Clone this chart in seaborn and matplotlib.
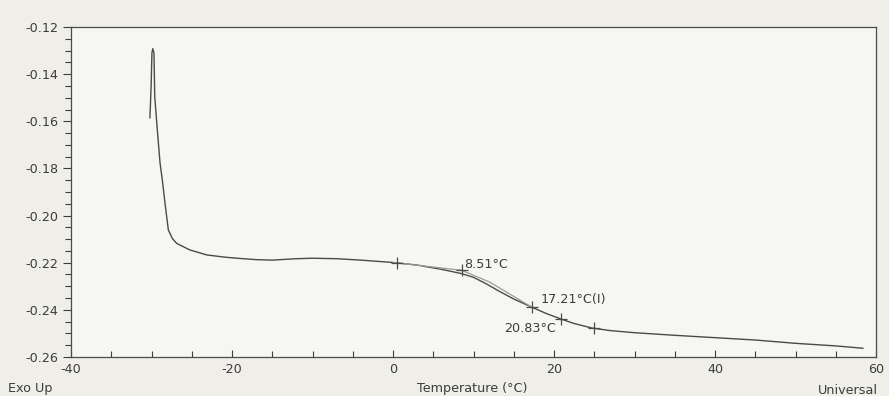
import matplotlib
matplotlib.use("Agg")
import matplotlib.pyplot as plt
from matplotlib.ticker import MultipleLocator, FormatStrFormatter
import seaborn as sns
import pandas as pd

# DSC heat-flow trace (Temperature in °C, heat flow in W/g)
temperature = [-30.2, -30.05, -29.95, -29.85, -29.7, -29.6, -29.28, -28.94,
               -28.66, -28.3, -27.91, -27.4, -26.87, -26.0, -25.22, -23.14,
               -21.0, -19.4, -17.0, -15.0, -12.0, -10.0, -7.0, -4.0, 0.0,
               3.0, 6.0, 8.5, 10.0, 11.5, 13.3, 15.0, 17.2, 19.0, 20.8, 22.5,
               24.7, 27.0, 30.0, 35.0, 40.0, 45.0, 50.0, 55.0, 58.4]
heat_flow = [-0.1586, -0.1450, -0.1310, -0.1292, -0.1310, -0.1496, -0.1637,
             -0.1778, -0.1849, -0.1955, -0.2061, -0.2098, -0.2118, -0.2133,
             -0.2146, -0.2167, -0.2176, -0.2181, -0.2187, -0.2189, -0.2183,
             -0.2181, -0.2183, -0.2189, -0.2199, -0.2210, -0.2228, -0.2246,
             -0.2262, -0.2288, -0.2323, -0.2354, -0.2388, -0.2415, -0.2438,
             -0.2458, -0.2477, -0.2488, -0.2497, -0.2508, -0.2518, -0.2528,
             -0.2542, -0.2553, -0.2563]

# onset tangent construction
tangent_t = [0.0, 8.51, 12.0, 17.21]
tangent_hf = [-0.2199, -0.2232, -0.2282, -0.2388]

# analysis markers
mark_t = [0.5, 8.51, 17.21, 20.83, 25.0]
mark_hf = [-0.2200, -0.2232, -0.2388, -0.2438, -0.2479]

labels = ["8.51°C", "17.21°C(I)", "20.83°C"]
label_x = [8.8, 18.3, 20.3]
label_y = [-0.2208, -0.2358, -0.2478]
label_ha = ["left", "left", "right"]

x_ticks = [-40, -20, 0, 20, 40, 60]
y_ticks = [-0.26, -0.24, -0.22, -0.20, -0.18, -0.16, -0.14, -0.12]

sns.set_theme(style="white")
plt.rcParams["font.family"] = ["DejaVu Sans"]
plt.rcParams["axes.unicode_minus"] = False

fs = 9.2
ink = "#3c3c3c"
fig = plt.figure(figsize=(8.89, 3.96), dpi=100, facecolor="#efeee8")
ax = fig.add_axes([0.0799, 0.0985, 0.9055, 0.8333])
ax.set_facecolor("#f6f6f3")

df = pd.DataFrame({"Temperature": temperature, "HeatFlow": heat_flow})
sns.lineplot(data=df, x="Temperature", y="HeatFlow", ax=ax, color="#4a4a4a",
             linewidth=1.0, sort=False, estimator=None)
sns.lineplot(x=tangent_t, y=tangent_hf, ax=ax, color="#9a9a9a", linewidth=0.9,
             sort=False, estimator=None)
ax.plot(mark_t, mark_hf, linestyle="none", marker="+", markersize=8,
        markeredgewidth=0.9, color="#4a4a4a")

for txt, tx, ty, ha in zip(labels, label_x, label_y, label_ha):
    ax.text(tx, ty, txt, ha=ha, va="center", fontsize=fs, color=ink)

ax.set_xlim(-40, 60)
ax.set_ylim(-0.26, -0.12)
ax.set_xticks(x_ticks)
ax.set_yticks(y_ticks)
ax.xaxis.set_minor_locator(MultipleLocator(5))
ax.yaxis.set_minor_locator(MultipleLocator(0.005))
ax.yaxis.set_major_formatter(FormatStrFormatter("%.2f"))
ax.tick_params(axis="x", which="both", direction="in", colors=ink,
               labelsize=fs, pad=4)
ax.tick_params(axis="x", which="major", length=5, width=0.8)
ax.tick_params(axis="x", which="minor", length=4, width=0.8)
ax.tick_params(axis="y", which="both", direction="out", colors=ink,
               labelsize=fs, pad=3)
ax.tick_params(axis="y", which="major", length=6, width=0.8)
ax.tick_params(axis="y", which="minor", length=4.5, width=0.8)
ax.tick_params(bottom=True, left=True, which="both")
ax.set_xlabel("")
ax.set_ylabel("")
for sp in ax.spines.values():
    sp.set_color("#4a4a4a")
    sp.set_linewidth(0.9)

fig.text(0.009, 0.018, "Exo Up", ha="left", va="center", fontsize=fs, color=ink)
fig.text(0.531, 0.018, "Temperature (°C)", ha="center", va="center",
         fontsize=fs, color=ink)
fig.text(0.920, 0.013, "Universal", ha="left", va="center", fontsize=fs, color=ink)

fig.savefig("out.png", dpi=100, facecolor=fig.get_facecolor())
